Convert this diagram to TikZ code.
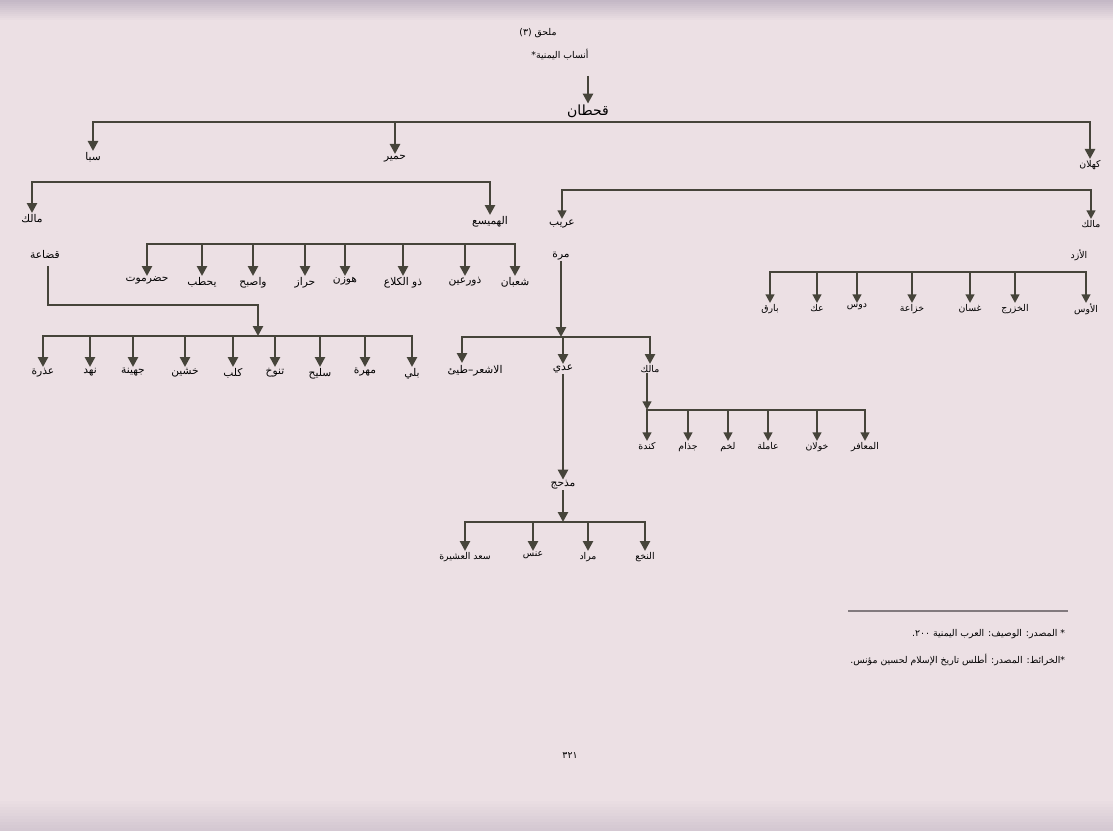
\documentclass[tikz,border=0pt]{standalone}
\usepackage{fontspec}
\newfontfamily\arabicfont[Script=Arabic]{DejaVu Sans}
\TeXXeTstate=1
\usetikzlibrary{arrows.meta}

\definecolor{paper}{RGB}{236,224,228}
\definecolor{band}{RGB}{196,184,198}
\definecolor{ink}{RGB}{70,68,58}
\definecolor{txt}{RGB}{62,58,60}
\definecolor{faint}{RGB}{130,122,126}

\tikzset{
  lblcol/.store in=\lblcol, lblcol=txt,
  lbl/.style={inner sep=0.5pt, text=txt, lblcol=txt, font=\arabicfont\fontsize{8}{9}\selectfont,
    execute at begin node={\hbox\bgroup\color{\lblcol}\beginR}, execute at end node={\endR\egroup}},
  big/.style={lbl, font=\arabicfont\fontsize{10.5}{12}\selectfont},
  pale/.style={lbl, text=faint, lblcol=faint, font=\arabicfont\fontsize{7}{8}\selectfont},
  kid/.style={lbl, anchor=north},
  palekid/.style={pale, anchor=north},
  bar/.style={draw=ink, line width=2.2pt, line cap=rect},
  thinbar/.style={draw=ink, line width=1.6pt, line cap=rect},
  arr/.style={draw=ink, line width=2.2pt, -{Triangle[width=7.5pt,length=7.5pt]}},
  thinarr/.style={draw=ink, line width=1.6pt, -{Triangle[width=6.5pt,length=6.5pt]}}
}

\begin{document}
\begin{tikzpicture}[x=0.75pt,y=-0.75pt]

%---------------------------------------
% Page
%---------------------------------------
\useasboundingbox (0,0) rectangle (1113,831);
\fill[paper] (0,0) rectangle (1113,831);
\foreach \i in {0,...,9} {
  \pgfmathsetmacro\k{100-10*\i}
  \fill[band!\k!paper] (0,2*\i) rectangle (1113,2*\i+2);
  \fill[band!\k!paper, opacity=0.6] (0,831-3*\i) rectangle (1113,828-3*\i);
}

%---------------------------------------
% Heading
%---------------------------------------
\node[pale] (annex) at (538,33) {ملحق (٣)};
\node[pale] (title) at (560,55) {أنساب اليمنية*};
\node[big] (qahtan) at (588,111) {قحطان};
\draw[arr] (588,76) -- (qahtan.north);

%---------------------------------------
% Qahtan -> Saba, Himyar, Kahlan
%---------------------------------------
\node[kid] (saba)   at (93,151)  {سبا};
\node[kid] (himyar) at (395,154) {حمير};
\node[palekid] (kahlan) at (1090,159) {كهلان};
\coordinate (qbar) at (0,122);
\draw[bar] (saba |- qbar) -- (kahlan |- qbar);
\foreach \n in {saba,himyar,kahlan}
  \draw[arr] (\n |- qbar) -- (\n.north);

%---------------------------------------
% Himyar -> Malik, al-Hamaysa
%---------------------------------------
\node[kid] (malikS) at (32,213)  {مالك};
\node[kid] (hamaysa) at (490,215) {الهميسع};
\coordinate (hbar) at (0,182);
\draw[bar] (malikS |- hbar) -- (hamaysa |- hbar);
\foreach \n in {malikS,hamaysa}
  \draw[arr] (\n |- hbar) -- (\n.north);
\node[lbl] (qudaa) at (45,254) {قضاعة};

%---------------------------------------
% Kahlan -> Uraib, Malik
%---------------------------------------
\node[kid] (uraib) at (562,219) {عريب};
\node[palekid] (malikK) at (1091,219) {مالك};
\coordinate (kbar) at (0,190);
\draw[thinbar] (uraib |- kbar) -- (malikK |- kbar);
\foreach \n in {uraib,malikK}
  \draw[thinarr] (\n |- kbar) -- (\n.north);
\node[lbl] (murra) at (561,256) {مرة};
\node[pale] (azd) at (1079,255) {الأزد};

%---------------------------------------
% al-Hamaysa's sons
%---------------------------------------
\coordinate (hsbar) at (0,244);
\foreach \x/\t/\n in {147/حضرموت/hs1, 202/يحطب/hs2, 253/واصبح/hs3, 305/حراز/hs4,
                      345/هوزن/hs5, 403/ذو الكلاع/hs6, 465/ذورعين/hs7, 515/شعبان/hs8}
  \node[kid] (\n) at (\x,276) {\t};
\draw[bar] (hs1 |- hsbar) -- (hs8 |- hsbar);
\foreach \n in {hs1,hs2,hs3,hs4,hs5,hs6,hs7,hs8}
  \draw[arr] (\n |- hsbar) -- (\n.north);

%---------------------------------------
% al-Azd's sons
%---------------------------------------
\coordinate (abar) at (0,272);
\foreach \x/\t/\n in {770/بارق/az1, 817/عك/az2, 857/دوس/az3, 912/خزاعة/az4,
                      970/غسان/az5, 1015/الخزرج/az6, 1086/الأوس/az7}
  \node[palekid] (\n) at (\x,303) {\t};
\draw[thinbar] (az1 |- abar) -- (az7 |- abar);
\foreach \n in {az1,az2,az3,az4,az5,az6,az7}
  \draw[thinarr] (\n |- abar) -- (\n.north);

%---------------------------------------
% Qudaa's sons
%---------------------------------------
\coordinate (qdbar) at (0,336);
\foreach \x/\t/\n in {43/عذرة/qd1, 90/نهد/qd2, 133/جهينة/qd3, 185/خشين/qd4, 233/كلب/qd5,
                      275/تنوخ/qd6, 320/سليح/qd7, 365/مهرة/qd8, 412/بلي/qd9}
  \node[kid] (\n) at (\x,367) {\t};
\draw[bar] (qd1 |- qdbar) -- (qd9 |- qdbar);
\foreach \n in {qd1,qd2,qd3,qd4,qd5,qd6,qd7,qd8,qd9}
  \draw[arr] (\n |- qdbar) -- (\n.north);
\coordinate (qturn) at (258,305);
\draw[arr] (48,266) |- (qturn) -- (qturn |- qdbar);

%---------------------------------------
% Murra's sons
%---------------------------------------
\node[kid] (tayy)   at (475,364) {الاشعر–طيئ};
\node[kid] (adi)    at (563,364) {عدي};
\node[palekid] (malikM) at (650,364) {مالك};
\coordinate (mbar) at (0,337);
\draw[bar] (462,337) -- (malikM |- mbar);
\draw[arr] (462,337) -- (462,363);
\foreach \n in {adi,malikM}
  \draw[arr] (\n |- mbar) -- (\n.north);
\draw[arr] (murra.south) -- (murra.south |- mbar);

%---------------------------------------
% Malik's sons
%---------------------------------------
\coordinate (lbar) at (0,410);
\foreach \x/\t/\n in {647/كندة/ml1, 688/جذام/ml2, 728/لخم/ml3, 768/عاملة/ml4,
                      817/خولان/ml5, 865/المعافر/ml6}
  \node[palekid] (\n) at (\x,441) {\t};
\draw[thinbar] (ml1 |- lbar) -- (ml6 |- lbar);
\foreach \n in {ml1,ml2,ml3,ml4,ml5,ml6}
  \draw[thinarr] (\n |- lbar) -- (\n.north);
\draw[thinarr] (malikM.south -| ml1) -- (ml1 |- lbar);

%---------------------------------------
% Adi -> Madhhij -> sons
%---------------------------------------
\node[lbl] (madhhij) at (563,485) {مذحج};
\draw[arr] (adi.south) -- (adi.south |- madhhij.north);
\coordinate (dbar) at (0,522);
\foreach \x/\t/\n in {465/سعد العشيرة/md1, 533/عنس/md2, 588/مراد/md3, 645/النخع/md4}
  \node[palekid] (\n) at (\x,551) {\t};
\draw[bar] (md1 |- dbar) -- (md4 |- dbar);
\foreach \n in {md1,md2,md3,md4}
  \draw[arr] (\n |- dbar) -- (\n.north);
\draw[arr] (madhhij.south) -- (madhhij.south |- dbar);

%---------------------------------------
% Notes and page number
%---------------------------------------
\draw[faint, line width=0.8pt] (848,611) -- (1068,611);
\node[pale, anchor=east] (src) at (1066,634) {* المصدر: الوصيف: العرب اليمنية ٢٠٠.};
\node[pale, anchor=east] (maps) at (1066,660) {*الخرائط: المصدر: أطلس تاريخ الإسلام لحسين مؤنس.};
\node[pale] (page) at (570,756) {٣٢١};

\end{tikzpicture}
\end{document}
